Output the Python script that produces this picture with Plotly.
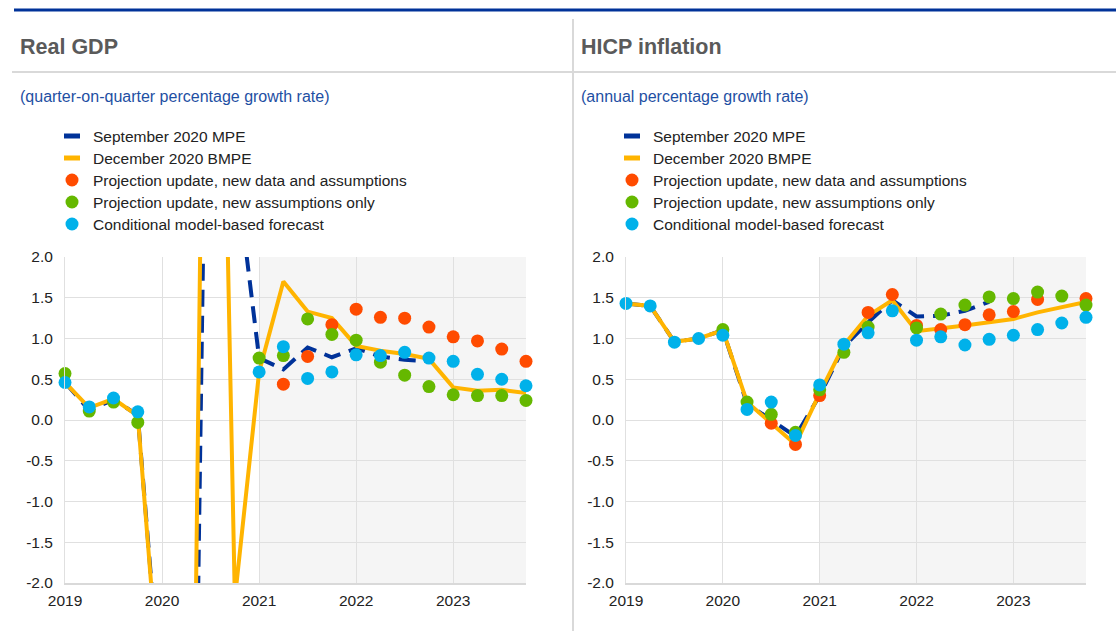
import plotly.graph_objects as go

# ---------------- data ----------------
quarters = [f"{y}Q{q}" for y in range(2019, 2024) for q in range(1, 5)]
years = [2019, 2020, 2021, 2022, 2023]
year_labels = ["2019", "2020", "2021", "2022", "2023"]
y_ticks = [-2.0, -1.5, -1.0, -0.5, 0.0, 0.5, 1.0, 1.5, 2.0]
y_tick_labels = ["-2.0", "-1.5", "-1.0", "-0.5", "0.0", "0.5", "1.0", "1.5", "2.0"]
projection_start = 2021
N = None

# Real GDP (quarter-on-quarter % growth)
gdp_sep = [0.46, 0.12, 0.25, 0.06, -3.6, -12.1, 8.4, 3.2, 0.76, 0.62, 0.89, 0.77,
           0.88, 0.78, 0.74, 0.72, N, N, N, N]
gdp_dec = [0.46, 0.15, 0.26, 0.05, -3.7, -11.8, 12.5, -2.2, 0.59, 1.70, 1.33, 1.25,
           0.91, 0.85, 0.81, 0.75, 0.40, 0.36, 0.37, 0.33]
gdp_upd_all = [N, N, N, N, N, N, N, N, N, 0.44, 0.78, 1.17,
               1.36, 1.26, 1.25, 1.14, 1.02, 0.97, 0.87, 0.72]
gdp_upd_assump = [0.57, 0.11, 0.22, -0.03, N, N, N, N, 0.76, 0.79, 1.24, 1.05,
                  0.98, 0.71, 0.55, 0.41, 0.31, 0.30, 0.30, 0.24]
gdp_model = [0.46, 0.16, 0.27, 0.10, N, N, N, N, 0.59, 0.90, 0.51, 0.59,
             0.80, 0.79, 0.83, 0.76, 0.72, 0.56, 0.50, 0.42]

# HICP inflation (annual % growth)
hicp_sep = [1.43, 1.40, 0.96, 1.00, 1.10, 0.20, 0.00, -0.20, 0.30, 0.90, 1.20, 1.47,
            1.27, 1.28, 1.34, 1.45, N, N, N, N]
hicp_dec = [1.43, 1.40, 0.96, 1.00, 1.10, 0.22, -0.04, -0.30, 0.33, 0.92, 1.28, 1.47,
            1.09, 1.12, 1.16, 1.20, 1.24, 1.32, 1.39, 1.45]
hicp_upd_all = [N, N, N, N, N, N, -0.04, -0.30, 0.30, N, 1.32, 1.54,
                1.16, 1.11, 1.17, 1.29, 1.33, 1.48, N, 1.49]
hicp_upd_assump = [N, N, N, N, 1.11, 0.22, 0.07, -0.15, 0.37, 0.83, 1.14, N,
                   1.13, 1.30, 1.41, 1.51, 1.49, 1.57, 1.52, 1.41]
hicp_model = [1.43, 1.40, 0.955, 1.00, 1.04, 0.13, 0.22, -0.19, 0.43, 0.93, 1.07, 1.34,
              0.98, 1.02, 0.92, 0.99, 1.04, 1.11, 1.19, 1.26]

series_names = ["September 2020 MPE", "December 2020 BMPE",
                "Projection update, new data and assumptions",
                "Projection update, new assumptions only",
                "Conditional model-based forecast"]

# ---------------- style ----------------
W, H = 1116, 631
FONT = "Liberation Sans, Arial, sans-serif"
C_BLUE = "#003299"
C_ORANGE = "#FFB400"
C_RED = "#FF4B00"
C_GREEN = "#65B800"
C_CYAN = "#00B1EA"
GRID = "#e0e0e0"
SHADE = "rgba(0,0,0,0.04)"
TXT = 15.5


def qx(label):
    return int(label[:4]) + (int(label[-1]) - 1) / 4.0


xs = [qx(q) for q in quarters]


def px(x):
    return x / W


def py(y):
    return 1 - y / H


fig = go.Figure()

panels = [
    ("x", "y", gdp_sep, gdp_dec, gdp_upd_all, gdp_upd_assump, gdp_model),
    ("x2", "y2", hicp_sep, hicp_dec, hicp_upd_all, hicp_upd_assump, hicp_model),
]

for xa, ya, sep, dec, upd_all, upd_as, model in panels:
    fig.add_trace(go.Scatter(x=xs, y=sep, mode="lines", xaxis=xa, yaxis=ya,
                             line=dict(color=C_BLUE, width=4, dash="17px,9px"),
                             showlegend=False, connectgaps=False))
    fig.add_trace(go.Scatter(x=xs, y=dec, mode="lines", xaxis=xa, yaxis=ya,
                             line=dict(color=C_ORANGE, width=4),
                             showlegend=False))
    for vals, col in [(upd_all, C_RED), (upd_as, C_GREEN), (model, C_CYAN)]:
        fig.add_trace(go.Scatter(x=xs, y=vals, mode="markers", xaxis=xa, yaxis=ya,
                                 marker=dict(color=col, size=13, line=dict(width=0)),
                                 cliponaxis=False, showlegend=False))

# axes
x_domains = {"": [65, 526], "2": [626, 1086]}
y_dom = [py(583), py(257)]
for suf, (l, r) in x_domains.items():
    fig.update_layout(**{
        f"xaxis{suf}": dict(
            domain=[px(l), px(r)], range=[years[0], 2023.75],
            tickmode="array", tickvals=years, ticktext=year_labels,
            showgrid=True, gridcolor=GRID, gridwidth=1, zeroline=False,
            showline=True, linecolor="#d9d9d9", linewidth=2,
            ticks="", ticklabelstandoff=2, automargin=False,
            tickfont=dict(family=FONT, size=TXT, color="#222222"),
            anchor=f"y{suf}", fixedrange=True),
        f"yaxis{suf}": dict(
            domain=y_dom, range=[-2, 2], tickmode="array", tickvals=y_ticks,
            ticktext=y_tick_labels, showgrid=True, gridcolor=GRID, gridwidth=1,
            zeroline=False, showline=True, linecolor="#e0e0e0", linewidth=1,
            ticks="", ticklabelstandoff=8, automargin=False,
            tickfont=dict(family=FONT, size=TXT, color="#222222"),
            anchor=f"x{suf}", fixedrange=True),
    })

shapes = []
annotations = []
# projection shading
for suf in ["", "2"]:
    shapes.append(dict(type="rect", xref=f"x{suf}", yref=f"y{suf} domain",
                       x0=projection_start, x1=2023.75, y0=0, y1=1,
                       fillcolor=SHADE, line=dict(width=0), layer="below"))

# frame lines
shapes.append(dict(type="line", xref="paper", yref="paper", x0=px(14), x1=px(1116),
                   y0=py(10), y1=py(10), line=dict(color=C_BLUE, width=3)))
shapes.append(dict(type="line", xref="paper", yref="paper", x0=px(12), x1=px(1116),
                   y0=py(72), y1=py(72), line=dict(color="#d9d9d9", width=2)))
shapes.append(dict(type="line", xref="paper", yref="paper", x0=px(573), x1=px(573),
                   y0=py(19), y1=py(631), line=dict(color="#d9d9d9", width=2)))

titles = [("Real GDP", "(quarter-on-quarter percentage growth rate)", 18),
          ("HICP inflation", "(annual percentage growth rate)", 579)]
for title, sub, x0 in titles:
    annotations.append(dict(xref="paper", yref="paper", x=px(x0), y=py(47),
                            xanchor="left", yanchor="middle", showarrow=False,
                            text=f"<b>{title}</b>",
                            font=dict(family=FONT, size=21.5, color="#5a5a5a")))
    annotations.append(dict(xref="paper", yref="paper", x=px(x0), y=py(97),
                            xanchor="left", yanchor="middle", showarrow=False,
                            text=sub, font=dict(family=FONT, size=16, color="#1e4fa3")))

# legends
leg_styles = [("line", C_BLUE), ("line", C_ORANGE), ("dot", C_RED),
              ("dot", C_GREEN), ("dot", C_CYAN)]
for sym_x in [64, 624]:
    for i, (name, (kind, col)) in enumerate(zip(series_names, leg_styles)):
        yc = 136 + 22 * i
        if kind == "line":
            shapes.append(dict(type="line", xref="paper", yref="paper",
                               x0=px(sym_x), x1=px(sym_x + 16), y0=py(yc), y1=py(yc),
                               line=dict(color=col, width=5)))
        else:
            r = 6.5
            cx = sym_x + 8
            shapes.append(dict(type="circle", xref="paper", yref="paper",
                               x0=px(cx - r), x1=px(cx + r), y0=py(yc + r), y1=py(yc - r),
                               fillcolor=col, line=dict(width=0)))
        annotations.append(dict(xref="paper", yref="paper", x=px(sym_x + 27), y=py(yc),
                                xanchor="left", yanchor="middle", showarrow=False,
                                text=name, font=dict(family=FONT, size=TXT, color="#222222")))

fig.update_layout(width=W, height=H, autosize=False,
                  margin=dict(l=0, r=0, t=0, b=0, pad=0),
                  paper_bgcolor="white", plot_bgcolor="white",
                  shapes=shapes, annotations=annotations, showlegend=False,
                  font=dict(family=FONT))

fig.write_html("out.html", config={"displayModeBar": False},
               post_script="document.body.style.margin='0';document.body.style.padding='0';")
